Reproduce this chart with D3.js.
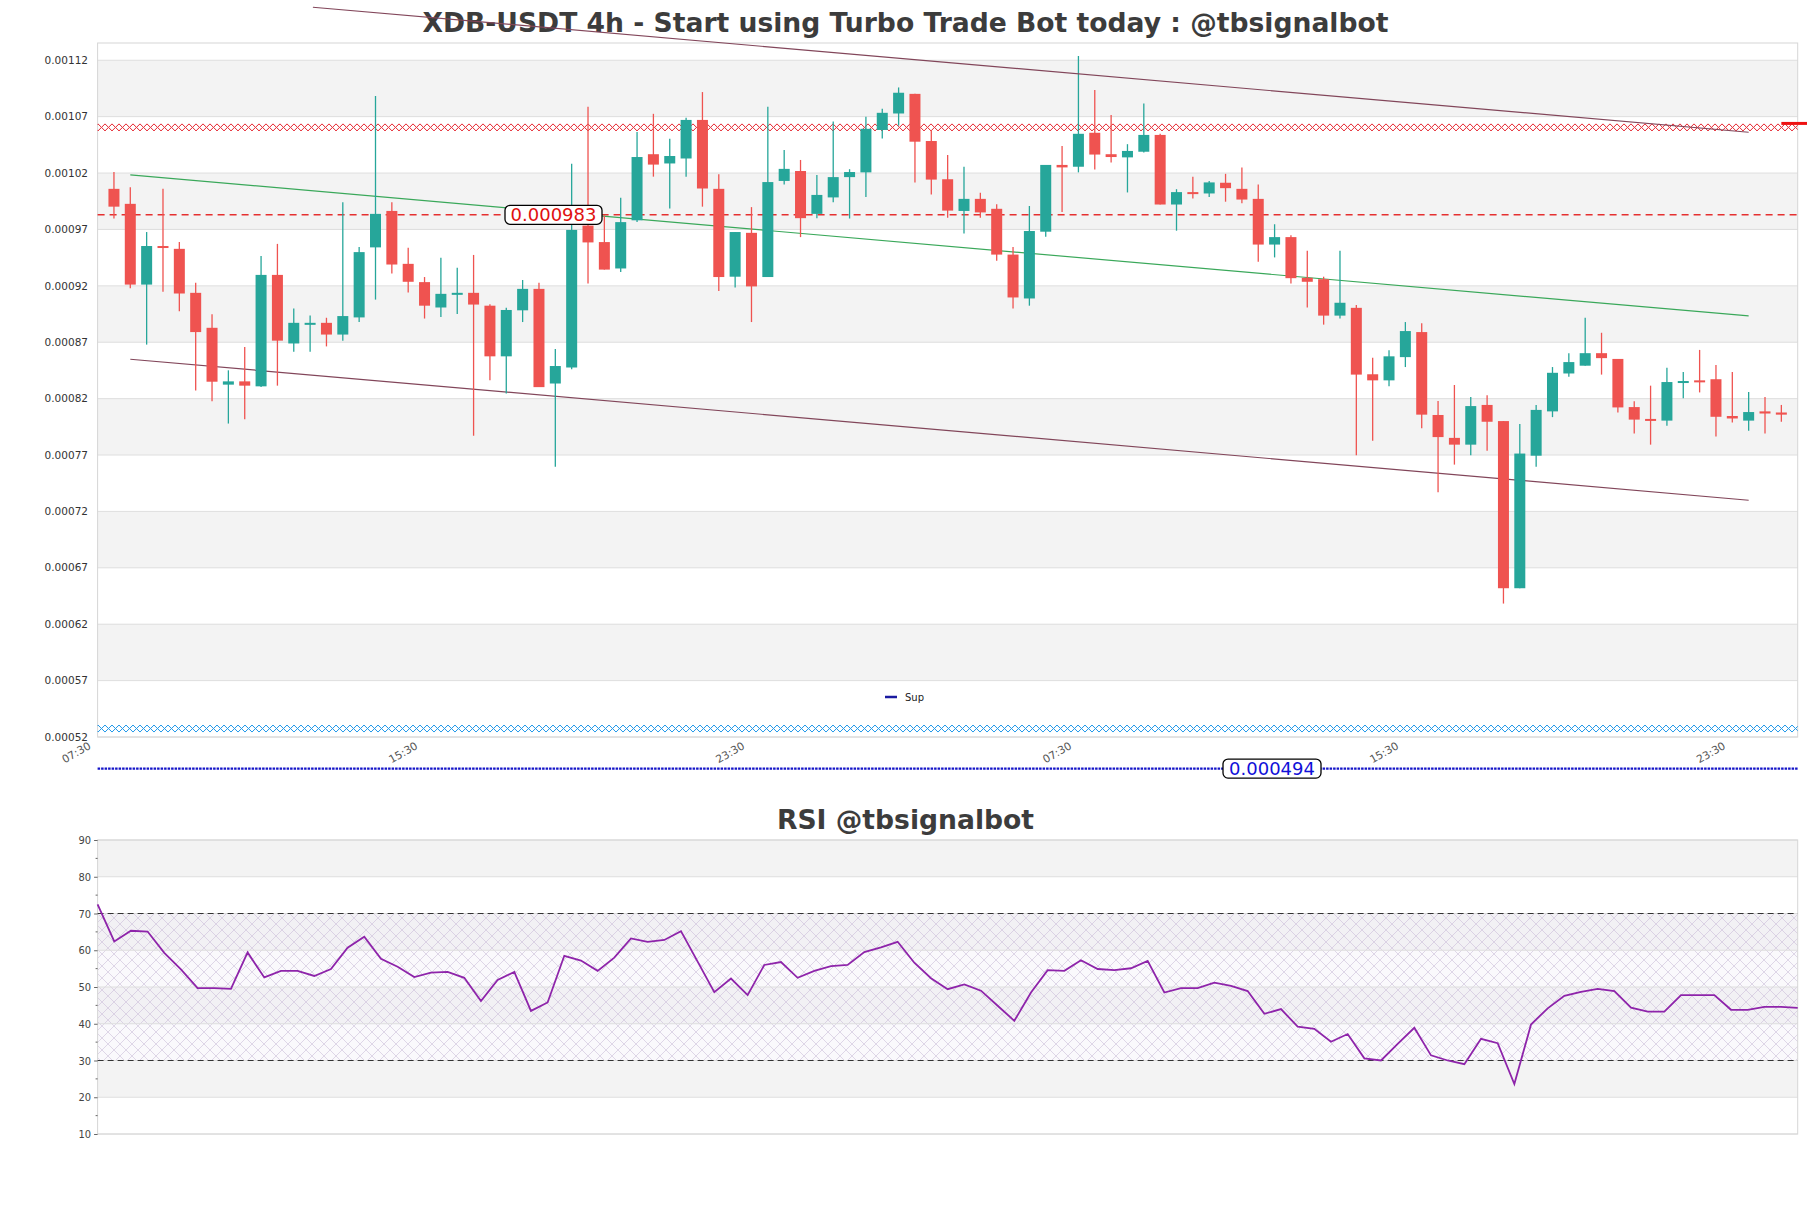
<!DOCTYPE html>
<html><head><meta charset="utf-8">
<script src="https://cdn.jsdelivr.net/npm/d3@7"></script>
<style>body{margin:0;background:#fff;} svg{display:block;font-family:'DejaVu Sans',sans-serif;}</style>
</head><body><svg id="c" width="1811" height="1208"></svg>
<script>
// ---------- DATA ----------
const chartTitle = "XDB-USDT 4h - Start using Turbo Trade Bot today : @tbsignalbot";
const rsiTitle = "RSI @tbsignalbot";
const candleOpen = [0.0010060,0.0009927,0.0009211,0.0009553,0.0009528,0.0009138,0.0008828,0.0008324,0.0008353,0.0008309,
0.0009297,0.0008689,0.0008856,0.0008872,0.0008768,0.0008920,0.0009541,0.0009864,0.0009395,0.0009233,
0.0009008,0.0009122,0.0009138,0.0009024,0.0008575,0.0008983,0.0009173,0.0008334,0.0008476,0.0009734,
0.0009588,0.0009354,0.0009781,0.0010367,0.0010285,0.0010329,0.0010671,0.0010060,0.0009281,0.0009670,
0.0009278,0.0010130,0.0010218,0.0009838,0.0009984,0.0010164,0.0010206,0.0010582,0.0010728,0.0010902,
0.0010484,0.0010145,0.0009864,0.0009971,0.0009883,0.0009477,0.0009088,0.0009680,0.0010272,0.0010256,
0.0010557,0.0010367,0.0010339,0.0010389,0.0010538,0.0009921,0.0010031,0.0010019,0.0010114,0.0010060,
0.0009971,0.0009566,0.0009632,0.0009271,0.0009259,0.0008936,0.0009005,0.0008416,0.0008362,0.0008568,
0.0008790,0.0008055,0.0007852,0.0007792,0.0008144,0.0008001,0.0006519,0.0007694,0.0008087,0.0008423,
0.0008492,0.0008603,0.0008552,0.0008125,0.0008020,0.0008005,0.0008347,0.0008362,0.0008372,0.0008046,
0.0008005,0.0008087,0.0008077];
const candleHigh = [0.0010209,0.0010073,0.0009677,0.0010060,0.0009588,0.0009227,0.0008948,0.0008451,0.0008657,0.0009465,
0.0009572,0.0008999,0.0008936,0.0008917,0.0009940,0.0009544,0.0010883,0.0009940,0.0009537,0.0009278,
0.0009449,0.0009360,0.0009474,0.0009037,0.0009005,0.0009252,0.0009227,0.0008641,0.0010282,0.0010788,
0.0009822,0.0009981,0.0010563,0.0010725,0.0010503,0.0010690,0.0010918,0.0010190,0.0009677,0.0009898,
0.0010788,0.0010405,0.0010316,0.0010183,0.0010658,0.0010234,0.0010700,0.0010769,0.0010959,0.0010902,
0.0010582,0.0010361,0.0010256,0.0010025,0.0009924,0.0009544,0.0009908,0.0010272,0.0010440,0.0011238,
0.0010937,0.0010715,0.0010456,0.0010817,0.0010548,0.0010057,0.0010168,0.0010130,0.0010193,0.0010250,
0.0010098,0.0009746,0.0009648,0.0009512,0.0009281,0.0009512,0.0009031,0.0008562,0.0008628,0.0008879,
0.0008869,0.0008179,0.0008321,0.0008214,0.0008229,0.0008001,0.0007976,0.0008144,0.0008480,0.0008603,
0.0008917,0.0008784,0.0008552,0.0008176,0.0008315,0.0008473,0.0008435,0.0008632,0.0008499,0.0008435,
0.0008258,0.0008214,0.0008144];
const candleLow = [0.0009797,0.0009179,0.0008679,0.0009148,0.0008974,0.0008271,0.0008176,0.0007979,0.0008017,0.0008302,
0.0008315,0.0008616,0.0008616,0.0008663,0.0008714,0.0008879,0.0009078,0.0009309,0.0009141,0.0008910,
0.0008923,0.0008951,0.0007871,0.0008362,0.0008245,0.0008879,0.0008302,0.0007596,0.0008461,0.0009221,
0.0009344,0.0009322,0.0009765,0.0010168,0.0009886,0.0010168,0.0009902,0.0009154,0.0009186,0.0008879,
0.0009278,0.0010098,0.0009632,0.0009800,0.0009940,0.0009797,0.0009987,0.0010506,0.0010620,0.0010117,
0.0010009,0.0009803,0.0009664,0.0009803,0.0009423,0.0008999,0.0009024,0.0009636,0.0009854,0.0010206,
0.0010231,0.0010294,0.0010028,0.0010383,0.0009921,0.0009689,0.0009974,0.0009987,0.0009946,0.0009933,
0.0009414,0.0009452,0.0009221,0.0009008,0.0008856,0.0008910,0.0007697,0.0007827,0.0008309,0.0008480,
0.0007938,0.0007371,0.0007615,0.0007697,0.0007738,0.0006383,0.0006519,0.0007596,0.0008036,0.0008394,
0.0008492,0.0008413,0.0008077,0.0007890,0.0007792,0.0007960,0.0008204,0.0008255,0.0007865,0.0007989,
0.0007916,0.0007890,0.0007995];
const candleClose = [0.0009902,0.0009211,0.0009553,0.0009541,0.0009132,0.0008790,0.0008350,0.0008353,0.0008315,0.0009297,
0.0008714,0.0008872,0.0008872,0.0008768,0.0008932,0.0009499,0.0009838,0.0009389,0.0009236,0.0009024,
0.0009129,0.0009138,0.0009034,0.0008575,0.0008986,0.0009173,0.0008302,0.0008489,0.0009696,0.0009585,
0.0009344,0.0009765,0.0010342,0.0010275,0.0010351,0.0010671,0.0010063,0.0009278,0.0009677,0.0009195,
0.0010120,0.0010237,0.0009800,0.0010006,0.0010164,0.0010209,0.0010592,0.0010734,0.0010912,0.0010478,
0.0010142,0.0009867,0.0009971,0.0009851,0.0009477,0.0009097,0.0009686,0.0010272,0.0010250,0.0010548,
0.0010364,0.0010342,0.0010396,0.0010538,0.0009921,0.0010031,0.0010019,0.0010117,0.0010066,0.0009965,
0.0009566,0.0009632,0.0009268,0.0009236,0.0008936,0.0009050,0.0008413,0.0008362,0.0008575,0.0008799,
0.0008058,0.0007859,0.0007792,0.0008134,0.0007995,0.0006519,0.0007713,0.0008100,0.0008429,0.0008524,
0.0008603,0.0008559,0.0008122,0.0008014,0.0008005,0.0008347,0.0008356,0.0008350,0.0008039,0.0008024,
0.0008081,0.0008068,0.0008058];
const rsiValues = [72.5,62.4,65.3,65.1,59.3,54.8,49.7,49.7,49.5,59.4,52.6,54.4,54.4,53.0,54.9,60.7,63.7,57.7,55.5,52.7,
53.9,54.1,52.5,46.2,51.9,54.1,43.5,45.8,58.5,57.2,54.4,58.0,63.2,62.3,62.8,65.2,56.9,48.6,52.3,47.8,
56.0,56.8,52.5,54.4,55.7,56.0,59.5,60.8,62.3,56.6,52.4,49.4,50.7,49.0,44.9,40.8,48.5,54.6,54.4,57.3,
54.9,54.6,55.1,57.1,48.5,49.7,49.7,51.2,50.3,48.9,42.7,44.0,39.2,38.6,35.1,37.2,30.6,30.0,34.5,38.9,
31.4,30.0,29.0,35.9,34.7,23.6,39.8,44.2,47.6,48.7,49.5,48.9,44.4,43.3,43.3,47.8,47.8,47.8,43.8,43.8,
44.6,44.6,44.3];
const priceTicks = [0.00052,0.00057,0.00062,0.00067,0.00072,0.00077,0.00082,0.00087,0.00092,0.00097,0.00102,0.00107,0.00112];
const timeTickIndex = [-1,19,39,59,79,99];
const timeTickLabels = ["07:30","15:30","23:30","07:30","15:30","23:30"];
const rsiTicks = [10,20,30,40,50,60,70,80,90];
const rsiLevels = [70,30];
const resistanceLevel = 0.000983;
const resistanceLabel = "0.000983";
const supportLevel = 0.000492;
const supportLabel = "0.000494";
const upperZone = 0.0010605;
const lowerZone = 0.0005275;
const lastMarkLevel = 0.001064;
const trendUpper = [[12.17,0.00116701],[100,0.00105617]];
const trendMid = [[1,0.00101832],[100,0.00089329]];
const trendLower = [[1,0.0008549],[100,0.00072988]];
const legendLabel = "Sup";

// ---------- LAYOUT ----------
const svg = d3.select("#c");
const L = 97.6, R = 1797.7, T = 43, B = 737;
const RT = 840, RB = 1134;
const UP = "#26a69a", DN = "#ef5350";

const x = d3.scaleLinear().domain([-1, candleOpen.length]).range([L, R]);
const y = d3.scaleLinear().domain([0.00052, 0.0011353]).range([B, T]);
const rx = d3.scaleLinear().domain([0, rsiValues.length - 1]).range([L, R]);
const ry = d3.scaleLinear().domain([10, 90]).range([RB, RT]);

svg.append("rect").attr("width",1811).attr("height",1208).attr("fill","#fff");

const defs = svg.append("defs");
function xPattern(id, color, y0, size){
  const p = defs.append("pattern").attr("id",id).attr("patternUnits","userSpaceOnUse")
    .attr("x",0).attr("y",y0).attr("width",size).attr("height",size);
  p.append("path").attr("d",`M0,0L${size},${size}M0,${size}L${size},0`).attr("stroke",color).attr("stroke-width",1).attr("fill","none");
}
const zoneH = 7;
xPattern("hr", "#e4202a", y(upperZone) - zoneH/2, zoneH);
xPattern("hb", "#1e96e8", y(lowerZone) - zoneH/2, zoneH);
const rp = defs.append("pattern").attr("id","rh").attr("patternUnits","userSpaceOnUse")
  .attr("x",0).attr("y",0).attr("width",12).attr("height",12);
rp.append("path").attr("d","M0,0L12,12M0,12L12,0").attr("stroke","#cbbdd8").attr("stroke-width",0.6).attr("fill","none");

// ---------- TITLE ----------
svg.append("text").attr("x",905.5).attr("y",31.5).attr("text-anchor","middle")
  .attr("font-size",26.6).attr("font-weight","bold").attr("fill","#3c3c3c").text(chartTitle);

// ---------- MAIN PANEL ----------
const g = svg.append("g");
for (let k = 1; k < priceTicks.length - 1; k += 2) {
  g.append("rect").attr("x",L).attr("width",R-L)
    .attr("y",y(priceTicks[k+1])).attr("height",y(priceTicks[k]) - y(priceTicks[k+1]))
    .attr("fill","#f3f3f3");
}
g.selectAll(".gl").data(priceTicks).enter().append("line")
  .attr("x1",L).attr("x2",R).attr("y1",d=>y(d)).attr("y2",d=>y(d))
  .attr("stroke","#dedede").attr("stroke-width",1);
g.append("rect").attr("x",L).attr("y",T).attr("width",R-L).attr("height",B-T)
  .attr("fill","none").attr("stroke","#d6d6d6").attr("stroke-width",1);
g.selectAll(".yl").data(priceTicks).enter().append("text")
  .attr("x",88).attr("y",d=>y(d)).attr("dy","0.35em").attr("text-anchor","end")
  .attr("font-size",10.5).attr("fill","#333").text(d=>d3.format(".5f")(d));
g.selectAll(".xl").data(timeTickIndex).enter().append("text")
  .attr("transform",d=>`translate(${x(d)-6},748) rotate(-30)`)
  .attr("text-anchor","end").attr("font-size",10.8).attr("fill","#555")
  .text((d,i)=>timeTickLabels[i]);

// zones
g.append("rect").attr("x",L).attr("width",R-L).attr("y",y(upperZone)-zoneH/2).attr("height",zoneH).attr("fill","url(#hr)");
g.append("rect").attr("x",L).attr("width",R-L).attr("y",y(lowerZone)-zoneH/2).attr("height",zoneH).attr("fill","url(#hb)");

// resistance dashed
g.append("line").attr("x1",L).attr("x2",R).attr("y1",y(resistanceLevel)).attr("y2",y(resistanceLevel))
  .attr("stroke","#e53030").attr("stroke-width",1.4).attr("stroke-dasharray","7,5");

// trend lines
const tl = d3.line().x(d=>x(d[0])).y(d=>y(d[1]));
g.append("path").attr("d",tl(trendMid)).attr("stroke","#3aa85a").attr("stroke-width",1.2).attr("fill","none");
g.append("path").attr("d",tl(trendLower)).attr("stroke","#82465a").attr("stroke-width",1.2).attr("fill","none");

// candles
const idx = d3.range(candleOpen.length);
const cg = g.append("g");
cg.selectAll(".wk").data(idx).enter().append("line")
  .attr("x1",i=>x(i)).attr("x2",i=>x(i)).attr("y1",i=>y(candleHigh[i])).attr("y2",i=>y(candleLow[i]))
  .attr("stroke",i=>candleClose[i]>=candleOpen[i]?UP:DN).attr("stroke-width",1.3);
cg.selectAll(".bd").data(idx).enter().append("rect")
  .attr("x",i=>x(i)-5.5).attr("width",11)
  .attr("y",i=>y(Math.max(candleOpen[i],candleClose[i])))
  .attr("height",i=>Math.max(2,Math.abs(y(candleOpen[i])-y(candleClose[i]))))
  .attr("fill",i=>candleClose[i]>=candleOpen[i]?UP:DN);

// upper trend line (extends above the frame)
g.append("path").attr("d",tl(trendUpper)).attr("stroke","#82465a").attr("stroke-width",1.2).attr("fill","none");

// resistance label
const rl = g.append("g").attr("transform",`translate(505,${y(resistanceLevel)})`);
rl.append("rect").attr("x",0).attr("y",-9.5).attr("width",97).attr("height",19).attr("rx",5)
  .attr("fill","#fff").attr("stroke","#000").attr("stroke-width",1.3);
rl.append("text").attr("x",48.5).attr("y",0).attr("dy","0.36em").attr("text-anchor","middle")
  .attr("font-size",18).attr("fill","#e01010").text(resistanceLabel);

// last mark at right edge
g.append("line").attr("x1",x(102)).attr("x2",1807).attr("y1",y(lastMarkLevel)).attr("y2",y(lastMarkLevel))
  .attr("stroke","#ee1111").attr("stroke-width",3);

// support dotted line (below frame)
g.append("line").attr("x1",L).attr("x2",R).attr("y1",y(supportLevel)).attr("y2",y(supportLevel))
  .attr("stroke","#1515c8").attr("stroke-width",2.2).attr("stroke-dasharray","2.5,1");
const sl = g.append("g").attr("transform",`translate(1223,${y(supportLevel)})`);
sl.append("rect").attr("x",0).attr("y",-9.5).attr("width",98).attr("height",19).attr("rx",5)
  .attr("fill","#fff").attr("stroke","#000").attr("stroke-width",1.3);
sl.append("text").attr("x",49).attr("y",0).attr("dy","0.36em").attr("text-anchor","middle")
  .attr("font-size",18).attr("fill","#1010d8").text(supportLabel);

// legend
g.append("line").attr("x1",885).attr("x2",897).attr("y1",697).attr("y2",697).attr("stroke","#1a1aa0").attr("stroke-width",2.5);
g.append("text").attr("x",905).attr("y",697).attr("dy","0.35em").attr("font-size",10).attr("fill","#222").text(legendLabel);

// ---------- RSI PANEL ----------
const rg = svg.append("g");
rg.append("text").attr("x",905.5).attr("y",829).attr("text-anchor","middle")
  .attr("font-size",26.6).attr("font-weight","bold").attr("fill","#3c3c3c").text(rsiTitle);
for (let k = 1; k < rsiTicks.length - 1; k += 2) {
  rg.append("rect").attr("x",L).attr("width",R-L)
    .attr("y",ry(rsiTicks[k+1])).attr("height",ry(rsiTicks[k]) - ry(rsiTicks[k+1])).attr("fill","#f3f3f3");
}
rg.append("rect").attr("x",L).attr("width",R-L).attr("y",ry(rsiLevels[0])).attr("height",ry(rsiLevels[1])-ry(rsiLevels[0]))
  .attr("fill","#f2eef6").attr("fill-opacity",0.35);
rg.append("rect").attr("x",L).attr("width",R-L).attr("y",ry(rsiLevels[0])).attr("height",ry(rsiLevels[1])-ry(rsiLevels[0]))
  .attr("fill","url(#rh)");
rg.selectAll(".rgl").data(rsiTicks).enter().append("line")
  .attr("x1",L).attr("x2",R).attr("y1",d=>ry(d)).attr("y2",d=>ry(d)).attr("stroke","#dedede");
rg.append("rect").attr("x",L).attr("y",RT).attr("width",R-L).attr("height",RB-RT)
  .attr("fill","none").attr("stroke","#d6d6d6");
const ryAxis = d3.axisLeft(ry).tickValues(rsiTicks).tickSize(3.5).tickPadding(3);
const ax = rg.append("g").attr("transform",`translate(${L},0)`).call(ryAxis);
ax.select(".domain").remove();
ax.selectAll("line").attr("stroke","#666");
ax.selectAll("text").attr("font-size",11).attr("fill","#444")
  .attr("font-family","'DejaVu Sans Condensed','DejaVu Sans',sans-serif").attr("font-stretch","condensed");
const minor = d3.range(15, 90, 10);
rg.selectAll(".mt").data(minor).enter().append("line")
  .attr("x1",L-2).attr("x2",L).attr("y1",d=>ry(d)).attr("y2",d=>ry(d)).attr("stroke","#666");
rg.selectAll(".lv").data(rsiLevels).enter().append("line")
  .attr("x1",L).attr("x2",R).attr("y1",d=>ry(d)).attr("y2",d=>ry(d))
  .attr("stroke","#333").attr("stroke-width",1.1).attr("stroke-dasharray","6,4");
rg.append("path").datum(rsiValues)
  .attr("d",d3.line().x((d,i)=>rx(i)).y(d=>ry(d)))
  .attr("fill","none").attr("stroke","#8e24aa").attr("stroke-width",1.8);
</script></body></html>
